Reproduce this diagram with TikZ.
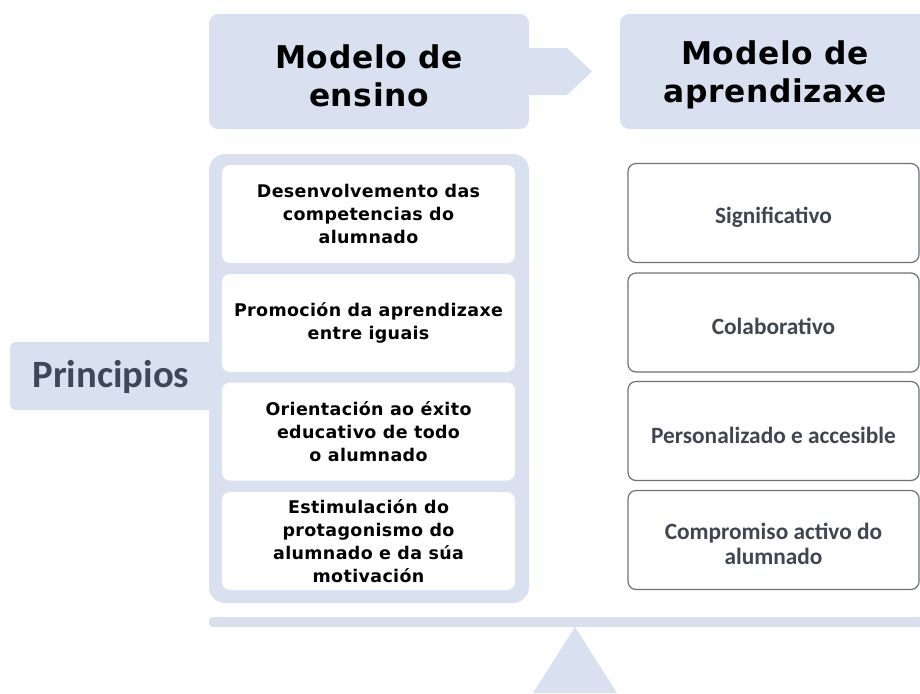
\documentclass[tikz,border=0pt]{standalone}
\usepackage{fontspec}
\newfontfamily\dejab[LetterSpace=2]{DejaVu Sans Bold}
\newfontfamily\carb{Carlito Bold}
\definecolor{lblue}{HTML}{D9E1F1}
\definecolor{slate}{HTML}{3C4857}
\definecolor{rtext}{HTML}{3F4650}
\definecolor{rborder}{HTML}{6E7175}
\tikzset{
  headtext/.style={font=\dejab\fontsize{23.5pt}{28.5pt}\selectfont, text=black, align=center},
  innerbox/.style={fill=white, draw=none, rounded corners=6pt, minimum width={293*0.75pt}, minimum height={98*0.75pt}, inner sep=0pt,
    align=center, font=\dejab\fontsize{13.1pt}{17.25pt}\selectfont, text=black},
  rightbox/.style={fill=white, draw=rborder, line width=0.9pt, rounded corners=6pt, minimum width={291*0.75pt}, minimum height={99*0.75pt}, inner sep=0pt},
  righttext/.style={align=center, inner sep=0pt, font=\carb\fontsize{17.5pt}{18.5pt}\selectfont, text=rtext},
}
\begin{document}
\begin{tikzpicture}[x=0.75pt,y=-0.75pt]
\useasboundingbox (0,0) rectangle (920,693);
\clip (0,0) rectangle (920,693);
% header boxes
\fill[lblue, rounded corners=7pt] (209,14) rectangle (529,129);
\fill[lblue] (527,48) -- (567,48) -- (592,71.5) -- (567,95) -- (527,95) -- cycle;
\node[headtext] (ensino) at (369,76) {Modelo de\\ensino};
\fill[lblue, rounded corners=7pt] (620,14) rectangle (940,129);
\node[headtext] (aprend) at (775,75) {Modelo de\\aprendizaxe};
% Principios tab
\fill[lblue, rounded corners=4pt] (10,342) rectangle (230,410);
\node[font=\carb\fontsize{29pt}{34pt}\selectfont, text=slate] (princ) at (111,377) {Principios};
% container
\fill[lblue, rounded corners=12pt] (209,154) rectangle (529,603);
\node[innerbox] (l1) at (368.5,214) {Desenvolvemento das\\competencias do\\alumnado};
\node[innerbox] (l2) at (368.5,323) {Promoción da aprendizaxe\\entre iguais};
\node[innerbox] (l3) at (368.5,431.5) {Orientación ao éxito\\educativo de todo\\o alumnado};
\node[innerbox] (l4) at (368.5,541) {Estimulación do\\protagonismo do\\alumnado e da súa\\motivación};
% right boxes
\node[rightbox] (r1) at (773.5,213) {};
\node[rightbox] (r2) at (773.5,322.5) {};
\node[rightbox] (r3) at (773.5,431) {};
\node[rightbox] (r4) at (773.5,540) {};
\node[righttext] (t1) at ([yshift=-3pt]r1.center) {Significativo};
\node[righttext] (t2) at ([yshift=-3pt]r2.center) {Colaborativo};
\node[righttext] (t3) at ([yshift=-3pt]r3.center) {Personalizado e accesible};
\node[righttext] (t4) at ([yshift=-3pt]r4.center) {Compromiso activo do\\alumnado};
% balance
\fill[lblue, rounded corners=3pt] (209,617) rectangle (940,627);
\fill[lblue] (575,627) -- (617,693) -- (533,693) -- cycle;
\end{tikzpicture}
\end{document}
